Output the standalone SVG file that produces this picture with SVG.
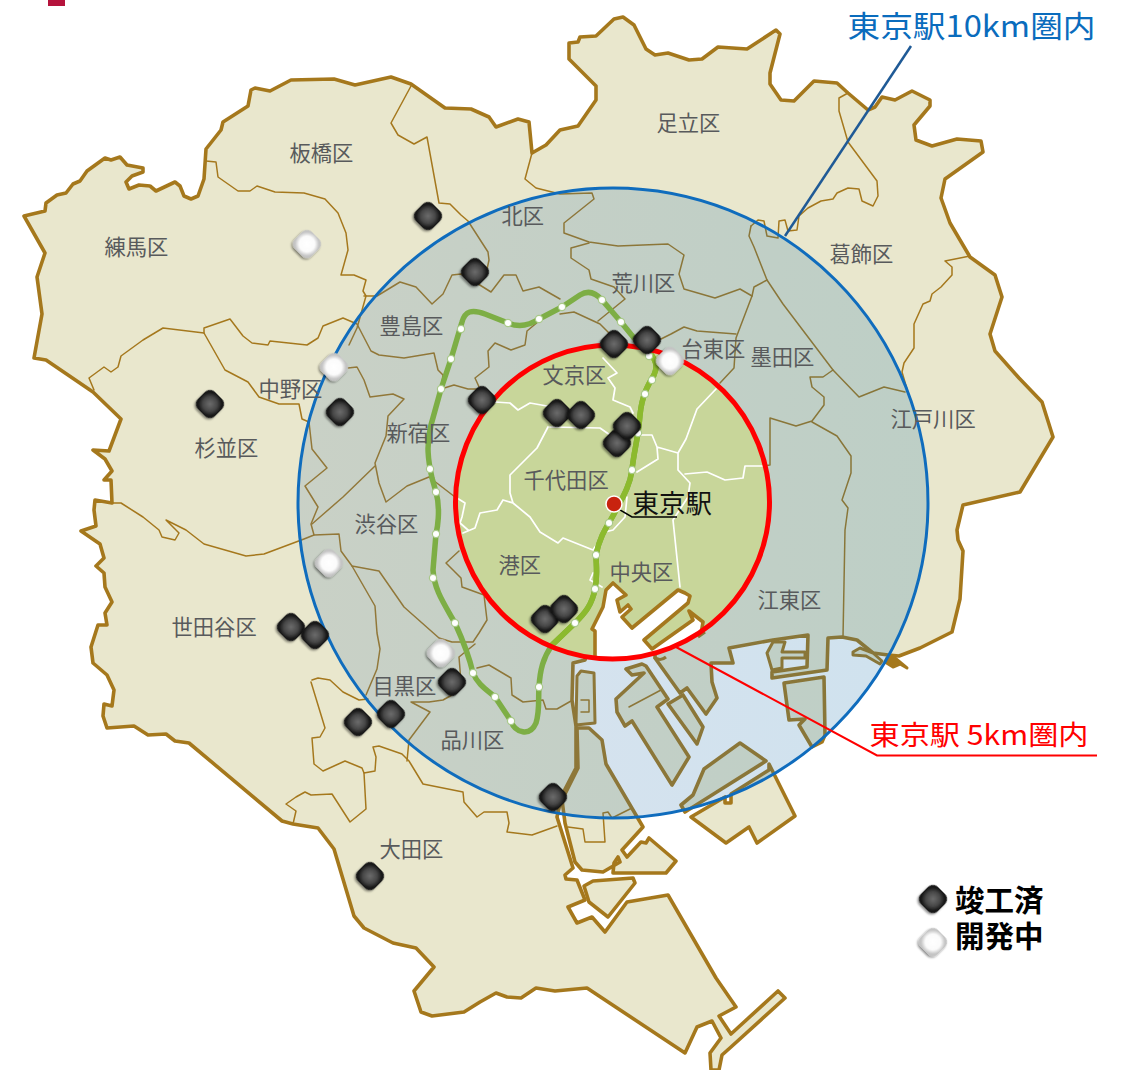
<svg xmlns="http://www.w3.org/2000/svg" xmlns:xlink="http://www.w3.org/1999/xlink" width="1124" height="1070" viewBox="0 0 1124 1070">
<style>
.land{fill:#e9e7cd;stroke:#a5781e;stroke-width:3.6;stroke-linejoin:round}
.ward{fill:none;stroke:#a5781e;stroke-width:1.5;stroke-linejoin:round;stroke-linecap:round}
.wardw{fill:none;stroke:#fff;stroke-width:1.7;stroke-linejoin:round;stroke-linecap:round}
.rail{fill:none;stroke-width:5.500;stroke-linejoin:round;stroke-linecap:round}
.st{fill:#fff;stroke:#a9c98a;stroke-width:1.2}
text{font-family:"Noto Sans CJK JP","Noto Sans",sans-serif}
.lbl{font-size:21.300px;fill:#585a5c}
</style>
<defs>
<linearGradient id="zone" x1="0" y1="0" x2="1" y2="0"><stop offset="0" stop-color="#4b78aa"/><stop offset=".5" stop-color="#2a70aa"/><stop offset="1" stop-color="#0f6eaa"/></linearGradient>
<radialGradient id="gb"><stop offset="0" stop-color="#6c6c6c"/><stop offset=".6" stop-color="#474747"/><stop offset="1" stop-color="#141414"/></radialGradient>
<radialGradient id="gw"><stop offset="0" stop-color="#fff"/><stop offset=".65" stop-color="#fbfbfb"/><stop offset="1" stop-color="#c4c4c4"/></radialGradient>
<filter id="sh" x="-30%" y="-30%" width="160%" height="170%"><feDropShadow dx="0" dy="2" stdDeviation="1.3" flood-color="#000" flood-opacity=".45"/></filter>
<filter id="soft" x="0" y="0" width="100%" height="100%" filterUnits="userSpaceOnUse"><feGaussianBlur stdDeviation=".45"/></filter>
<clipPath id="c5"><circle cx="612.5" cy="502" r="157"/></clipPath>
<g id="mb"><rect x="-12" y="-12" width="24" height="24" rx="7" transform="rotate(45)" fill="url(#gb)" filter="url(#sh)"/></g>
<g id="mw"><rect x="-12" y="-12" width="24" height="24" rx="7" transform="rotate(45)" fill="url(#gw)" filter="url(#sh)"/></g>
<path id="ring" d="M596,555C600,535 608,525 614,514C624,495 630,485 632,470C634,450 638,440 640,415C642,395 648,385 654,375C658,366 656,360 649,352L634,338L621,322L602,300C595,292 588,290 580,295L562,307L539,319C530,325 520,328 508,323L485,314C472,309 465,311 462,322L451,359L441,389L431,425C426,445 428,460 432,478L436,492C441,510 437,530 436,534L433,570C434,590 445,605 455,623C465,645 470,660 473,673C478,685 487,690 495,697L511,721C515,733 530,737 536,723C540,710 538,700 539,687C540,670 543,658 552,645L575,623C585,613 592,605 595,589C598,575 596,565 596,555"/>
</defs>

<g id="land" filter="url(#soft)">
<path class="land" d="M24,216L45,211L46,203L57,195L66,193L73,184L80,181L87,171L105,158L111,160L120,157L127,165L143,168L143,172L132,176L126,182L129,189L139,185L150,186L156,191L175,182L180,186L184,196L191,199L198,196L204,179L206,149L221,130L223,122L248,106L251,90L255,88L270,91L291,80L334,79L355,85L391,77L411,84L445,108L471,109L489,117L496,127L518,119L529,122L532,153L546,145L560,130L578,126L596,100L596,86L569,59L569,43L578,42L580,37L596,36L614,19L623,17L634,25L646,49L655,55L668,53L689,60L702,59L718,47L747,49L776,30L780,34L770,73L770,84L781,100L794,101L814,81L837,83L848,93L868,110L875,107L882,97L895,100L912,91L930,100L930,106L914,125L916,140L932,146L957,139L981,141L983,152L945,179L941,198L950,223L970,257L995,275L1002,297L990,334L995,351L1019,378L1042,402L1053,437L1020,492L963,505L957,530L958,540L963,551L960,599L952,632L920,648L899,656L888,655L873,653L857,640L842,637L828,638L827,670L772,678L772,672L807,667L808,635L773,640L729,648L733,663L711,663L712,682L717,698L706,714L687,688L680,693L655,658L655,640L590,640L585,660L573,663L572,700L576,726L576,768L562,795L557,817L573,868L565,875L566,879L577,880L585,900L568,907L577,923L592,917L605,932L627,902L668,895L716,978L736,1007L719,1016L731,1034L778,991L785,998L731,1047L722,1055L719,1070L711,1070L710,1053L721,1038L712,1021L697,1027L685,1053L587,988L555,991L536,988L521,998L507,997L496,993L480,1002L464,1012L432,1016L421,1012L414,991L434,967L416,948L393,943L364,928L354,916L334,849L318,828L293,824L282,821L189,743L175,741L166,734L148,735L134,726L107,728L103,716L104,704L112,706L114,690L107,675L93,663L91,647L98,625L107,625L105,613L112,602L105,587L104,573L96,566L104,558L100,544L81,531L96,526L94,510L95,500L112,503L111,480L104,480L112,471L105,459L93,450L109,451L121,419L93,392L46,360L34,358L42,314L37,277L45,253Z"/>
<path class="land" d="M577,728L589,728L602,740L606,764L643,827L622,850L627,857L641,842L646,843L649,838L676,861L666,873L613,873L614,863L618,857L620,862L603,872L582,870L575,862L565,823L562,800L578,768Z"/>
<path class="land" d="M584,886L593,881L633,878L635,883L608,917L589,902Z"/>
<path class="land" d="M577,676L581,671L594,673L595,723L576,725Z" style="stroke-width:3"/>
<path class="land" d="M626,669L642,664L646,666L668,699L657,707L689,757L672,785L632,721L625,726L617,712L616,699L644,673L632,675Z"/>
<path class="land" d="M668,704L683,695L703,727L697,744Z"/>
<path class="land" d="M740,743L766,761L712,795L685,812L681,805L693,795L704,769Z"/>
<path class="land" d="M769,764L795,816L757,843L749,827L726,843L691,817L725,797L725,803L731,803L731,794L769,770Z"/>
<path class="land" d="M784,683L824,677L825,735L822,742L812,747L799,725L805,719L789,720Z"/>
<path class="land" d="M773,642L785,642L782,652L805,652L805,658L782,658L782,668L772,670L767,653Z" style="stroke-width:3"/>
<path class="land" d="M853,652L860,648L873,653L882,661L880,664L866,656L853,655Z" style="stroke-width:3"/>
<path class="land" d="M885,662L887,658L895,658L907,668L900,664L893,667Z" style="fill:#a5781e;stroke-width:3"/>
<path d="M654,657Q660,662 666,657M698,637L705,632" fill="none" stroke="#a5781e" stroke-width="3"/>
</g>

<g id="wards" filter="url(#soft)">
<path class="ward" d="M206,161L216,162L218,177L238,191L250,191L257,186L275,192L304,193L325,199L338,213L346,233L348,250L341,275L354,275L366,280L363,291L366,296L357,328L349,345"/>
<path class="ward" d="M94,390L89,378L104,367L111,372L118,367L121,356L143,340L163,328L204,333L225,370L248,382L259,397L279,404L299,404L302,419L309,422L312,449L327,468L305,486L318,507L311,524L314,535L304,539L264,554L246,556L204,544L186,530L166,520L179,533L175,540L162,537L159,530L143,517L121,503L112,503"/>
<path class="ward" d="M204,333L204,328L230,319L243,336L252,343L268,345L270,341L307,345L318,338L323,326L343,318L357,324L371,351L379,355L404,358L434,353L438,370L443,375L441,389L454,385L468,389L480,389"/>
<path class="ward" d="M348,368L357,367L364,380L370,397L393,394L404,399L388,416L386,436L375,463L379,483L386,502L407,486L429,477L455,497M375,466L343,497L320,517L312,524M314,535L339,534L341,551L352,566L379,571L404,607L439,638L452,642L473,642L479,633L487,620L484,595L462,587L461,578L446,563L459,551"/>
<path class="ward" d="M411,86L391,123L398,135L414,144L427,137L439,203L450,204L461,215L468,221L488,252L489,260L486,274"/>
<path class="ward" d="M364,296L377,296L400,282L416,287L432,304L443,294L452,275L461,274L475,282L491,292L504,275L516,275L523,291L539,287L560,299"/>
<path class="ward" d="M532,153L525,179L536,188L560,194L592,193L594,199L564,223L564,233L589,242L618,246L668,244L684,255L679,274L684,289L715,298L740,289L752,296L736,338L734,368L720,383"/>
<path class="ward" d="M589,243L571,248L571,258L589,270L591,279L614,287L625,299L598,321M560,314L574,312L600,324L609,333M539,321L527,331L525,345L511,350L495,343L488,351L489,367L475,378L480,389"/>
<path class="ward" d="M751,226L758,220L764,221L767,236L778,238L779,221L785,220L788,231L797,230L799,216L808,208L821,201L833,199L837,193L848,188L859,189L862,201L873,206L878,196L877,181L848,142L839,111L839,98L848,93" />
<path class="ward" d="M751,226L749,236L754,247L767,280L783,304L833,370L859,397L884,387L905,392"/>
<path class="ward" d="M970,256L945,261L952,267L952,275L941,287L932,294L930,301L923,304L914,324L914,348L904,363L902,372L907,389M767,280L754,287L752,296M657,341L671,334L684,327L697,331L736,334"/>
<path class="ward" d="M833,370L823,377L810,377L812,387L824,397L824,405L812,421L796,426L770,418L770,465L763,466M812,422L837,436L851,456L851,473L842,500L848,508L845,530L843,637"/>
<path class="ward" d="M352,566L375,606L377,633L380,649L377,669L366,695M312,680L318,678L330,680L343,692L359,700L368,699M311,682L325,728L320,737L312,738L314,764L323,771L345,761L362,768L364,773L375,771L376,757L373,747L379,746L402,754L409,761L423,784L463,792L464,802L477,817L484,812L507,812L509,823L507,832L532,835L557,826"/>
<path class="ward" d="M364,773L366,809L350,822L332,794L311,795L305,792L296,797L286,804L296,811L293,824M411,702L430,712L409,740L407,761M411,702L429,702L443,700L452,695L461,682L459,657L475,644"/>
<path class="ward" d="M477,668L489,665L511,678L512,695L523,702L543,700L546,709L557,709L571,701M568,827L583,829L585,842L605,842L603,813L608,812L612,818L632,808M629,707L661,690M581,700L589,700L589,712L581,712"/>
</g>

<g id="zone10">
<circle cx="613" cy="503" r="315" fill="url(#zone)" fill-opacity=".2" stroke="#0f6cbd" stroke-width="3"/>
</g>

<g id="zone5">
<circle cx="612.5" cy="502" r="157" fill="#c8d69a"/>
<g clip-path="url(#c5)">
<path class="wardw" d="M495,402L510,403L518,410L530,403L547,406L570,412M548,427L537,448L510,475L510,493L513,503L530,517L540,532L558,543L563,538L593,550L605,532L613,530L625,517L627,497M550,427L600,428L610,435M503,500L497,510L480,513L475,528L463,533M457,498L465,503L462,517L460,523L468,530M503,500L513,503M603,358L617,373L608,378L615,388L613,400L630,407L633,413M640,435L652,435L657,447L678,453L686,439L697,409L716,389M657,447L658,459L637,472M678,453L678,470L690,483L688,497L673,520L680,587M685,474L707,472L725,480L743,478L745,466L763,466M593,573L590,580L602,587"/>
<path d="M595,690L595,631L592,629L603,607L606,590L613,583L626,595L617,600L620,612L628,605L631,609L622,617L632,628L678,590L685,593L690,596L688,603L644,640L652,649L693,620L689,611L703,622L700,640L660,690Z" fill="#fff" stroke="#a5781e" stroke-width="3.600" stroke-linejoin="round"/>
</g>
</g>

<g id="connectors">
<use href="#ring" class="rail" stroke="#7dae45"/>
<g clip-path="url(#c5)"><use href="#ring" class="rail" stroke="#8cba2e"/></g>
<g class="st">
<circle cx="596" cy="555" r="3.6"/><circle cx="595" cy="589" r="3.6"/><circle cx="609" cy="523" r="3.6"/><circle cx="632" cy="470" r="3.6"/><circle cx="638" cy="433" r="3.6"/><circle cx="645" cy="394" r="3.6"/><circle cx="652" cy="380" r="3.6"/><circle cx="649" cy="356" r="3.6"/><circle cx="621" cy="322" r="3.6"/><circle cx="602" cy="300" r="3.6"/><circle cx="562" cy="307" r="3.6"/><circle cx="539" cy="319" r="3.6"/><circle cx="508" cy="323" r="3.6"/><circle cx="461" cy="329" r="3.6"/><circle cx="451" cy="359" r="3.6"/><circle cx="441" cy="389" r="3.6"/><circle cx="430" cy="469" r="3.6"/><circle cx="436" cy="492" r="3.6"/><circle cx="436" cy="534" r="3.6"/><circle cx="433" cy="578" r="3.6"/><circle cx="455" cy="623" r="3.6"/><circle cx="473" cy="673" r="3.6"/><circle cx="495" cy="697" r="3.6"/><circle cx="511" cy="721" r="3.6"/><circle cx="539" cy="687" r="3.6"/><circle cx="575" cy="623" r="3.6"/>
</g>
<circle cx="612.5" cy="502" r="157" fill="none" stroke="#ff0000" stroke-width="5"/>
<path d="M911,46L785,236" fill="none" stroke="#1f5a96" stroke-width="2.5"/>
<path d="M676,647L877,755.5H1097" fill="none" stroke="#ff0000" stroke-width="2"/>
<path d="M615,507L632,517H677" fill="none" stroke="#000" stroke-width="1.5"/>
</g>

<g id="markers">
<use href="#mb" x="428" y="216"/><use href="#mb" x="475" y="272"/><use href="#mb" x="210" y="404"/><use href="#mb" x="340" y="412"/><use href="#mb" x="482" y="400"/><use href="#mb" x="557" y="413"/><use href="#mb" x="581" y="415"/><use href="#mb" x="617" y="443"/><use href="#mb" x="627" y="426"/><use href="#mb" x="614" y="344"/><use href="#mb" x="647" y="340"/><use href="#mb" x="291" y="627"/><use href="#mb" x="315" y="635"/><use href="#mb" x="358" y="722"/><use href="#mb" x="391" y="714"/><use href="#mb" x="452" y="682"/><use href="#mb" x="545" y="619"/><use href="#mb" x="564" y="609"/><use href="#mb" x="553" y="797"/><use href="#mb" x="370" y="876"/>
<use href="#mw" x="307" y="244"/><use href="#mw" x="334" y="367"/><use href="#mw" x="670" y="361"/><use href="#mw" x="329" y="563"/><use href="#mw" x="441" y="653"/>
</g>

<g id="station"><circle cx="614" cy="504" r="8" fill="#c8230f" stroke="#fff" stroke-width="1.5"/></g>

<g id="labels" transform="translate(-.5,-1)">
<text class="lbl" x="657" y="131.500">足立区</text>
<text class="lbl" x="290" y="161.500">板橋区</text>
<text class="lbl" x="502" y="224.500">北区</text>
<text class="lbl" x="105" y="255.500">練馬区</text>
<text class="lbl" x="830" y="262.500">葛飾区</text>
<text class="lbl" x="612" y="291.500">荒川区</text>
<text class="lbl" x="380" y="334.500">豊島区</text>
<text class="lbl" x="682" y="357.500">台東区</text>
<text class="lbl" x="751" y="365.500">墨田区</text>
<text class="lbl" x="543" y="383.500">文京区</text>
<text class="lbl" x="259" y="397.500">中野区</text>
<text class="lbl" x="891" y="427.500">江戸川区</text>
<text class="lbl" x="387" y="441.500">新宿区</text>
<text class="lbl" x="195" y="456.500">杉並区</text>
<text class="lbl" x="524" y="488.500">千代田区</text>
<text class="lbl" x="355" y="532.500">渋谷区</text>
<text class="lbl" x="499" y="573.500">港区</text>
<text class="lbl" x="610" y="580.500">中央区</text>
<text class="lbl" x="758" y="608.500">江東区</text>
<text class="lbl" x="172" y="635.500">世田谷区</text>
<text class="lbl" x="373" y="694.500">目黒区</text>
<text class="lbl" x="441" y="748.500">品川区</text>
<text class="lbl" x="380" y="857.500">大田区</text>
<text x="633" y="514" font-size="26.500" fill="#111">東京駅</text>
<text x="848" y="38" font-size="30" fill="#0a6cbd" textLength="248" lengthAdjust="spacingAndGlyphs">東京駅10km圏内</text>
<text x="870" y="746" font-size="27.500" fill="#ff0000" textLength="219" lengthAdjust="spacingAndGlyphs">東京駅 5km圏内</text>
</g>

<g id="legend">
<use href="#mb" x="933" y="899"/>
<use href="#mw" x="933" y="942"/>
<text x="955" y="911" font-size="29.500" font-weight="700" fill="#000">竣工済</text>
<text x="955" y="947" font-size="29.500" font-weight="700" fill="#000">開発中</text>
</g>

<rect id="corner-mark" x="48" y="0" width="17" height="6" fill="#b5133c"/>
</svg>
